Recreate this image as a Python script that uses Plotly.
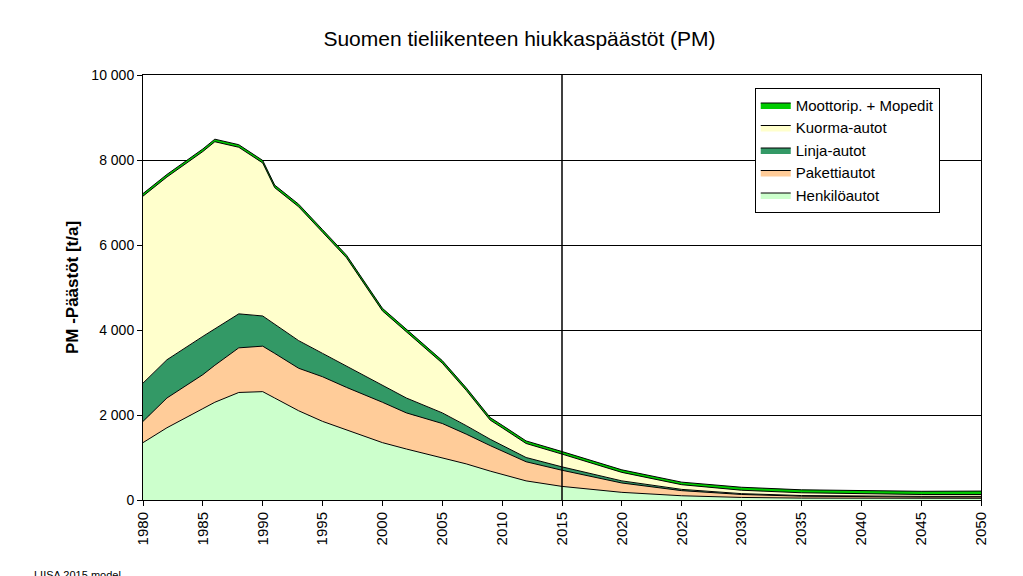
import plotly.graph_objects as go

years = [1980, 1982, 1985, 1986, 1988, 1990, 1991, 1993, 1995, 1997, 2000, 2002, 2005, 2007, 2009, 2010,
         2012, 2015, 2020, 2025, 2030, 2035, 2040, 2045, 2050]
henkiloautot = [1350, 1700, 2150, 2300, 2530, 2550, 2400, 2100, 1850, 1650, 1350, 1200, 1000, 850, 680, 600,
                450, 320, 180, 100, 60, 45, 40, 40, 40]
pakettiautot = [500, 700, 800, 870, 1050, 1070, 1050, 1000, 1050, 1000, 950, 850, 800, 700, 600, 550,
                450, 380, 220, 120, 70, 45, 35, 30, 30]
linja_autot = [900, 900, 900, 850, 800, 710, 680, 650, 550, 500, 400, 350, 250, 200, 150, 130,
               100, 80, 50, 30, 20, 15, 15, 15, 15]
kuorma_autot = [4400, 4300, 4350, 4410, 3920, 3600, 3220, 3150, 2850, 2550, 1750, 1550, 1170, 830, 450, 420,
                330, 300, 200, 110, 80, 65, 55, 45, 45]
moottorip = [60, 60, 60, 60, 60, 60, 60, 60, 60, 60, 60, 60, 60, 60, 60, 60,
             60, 60, 60, 60, 70, 70, 75, 75, 80]

series = [("Henkilöautot", henkiloautot, "#ccffcc"),
          ("Pakettiautot", pakettiautot, "#ffcc99"),
          ("Linja-autot", linja_autot, "#339966"),
          ("Kuorma-autot", kuorma_autot, "#ffffcc"),
          ("Moottorip. + Mopedit", moottorip, "#00cc00")]

fig = go.Figure()
for name, vals, col in series:
    fig.add_trace(go.Scatter(x=years, y=vals, name=name, stackgroup="a", mode="lines",
                             line=dict(color="black", width=1), fillcolor=col))

fig.add_shape(type="line", x0=2015, x1=2015, y0=0, y1=10000, xref="x", yref="y",
              line=dict(color="black", width=1.5))

fig.update_layout(
    width=1023, height=576, plot_bgcolor="white", paper_bgcolor="white",
    font=dict(family="Liberation Sans, Arial", size=14, color="black"),
    title=dict(text="Suomen tieliikenteen hiukkaspäästöt (PM)", x=0.5, y=0.96,
               font=dict(size=21)),
    margin=dict(l=135, r=50, t=67, b=84, autoexpand=False),
    legend=dict(x=0.73, y=0.97, xanchor="left", yanchor="top", traceorder="reversed",
                bordercolor="black", borderwidth=1, bgcolor="white", font=dict(size=15)),
    showlegend=True,
)
fig.update_xaxes(range=[1980, 2050], tickvals=list(range(1980, 2051, 5)), tickangle=-90,
                 showgrid=False, showline=True, linecolor="black", mirror=True, automargin=False,
                 ticks="outside", tickcolor="black", ticklen=5, tickfont=dict(size=15))
fig.update_yaxes(range=[0, 10000], tickvals=list(range(0, 10001, 2000)),
                 ticktext=["0", "2 000", "4 000", "6 000", "8 000", "10 000"],
                 showgrid=True, gridcolor="black", gridwidth=1, showline=True, automargin=False,
                 linecolor="black", mirror=True, ticks="outside", tickcolor="black",
                 title=dict(text="<b>PM -Päästöt [t/a]</b>", font=dict(size=17), standoff=8))
fig.add_annotation(text="LIISA 2015 model", xref="paper", yref="paper", x=-0.132, y=-0.195,
                   xanchor="left", yanchor="bottom", showarrow=False, font=dict(size=11))

fig.write_html("out.html")
